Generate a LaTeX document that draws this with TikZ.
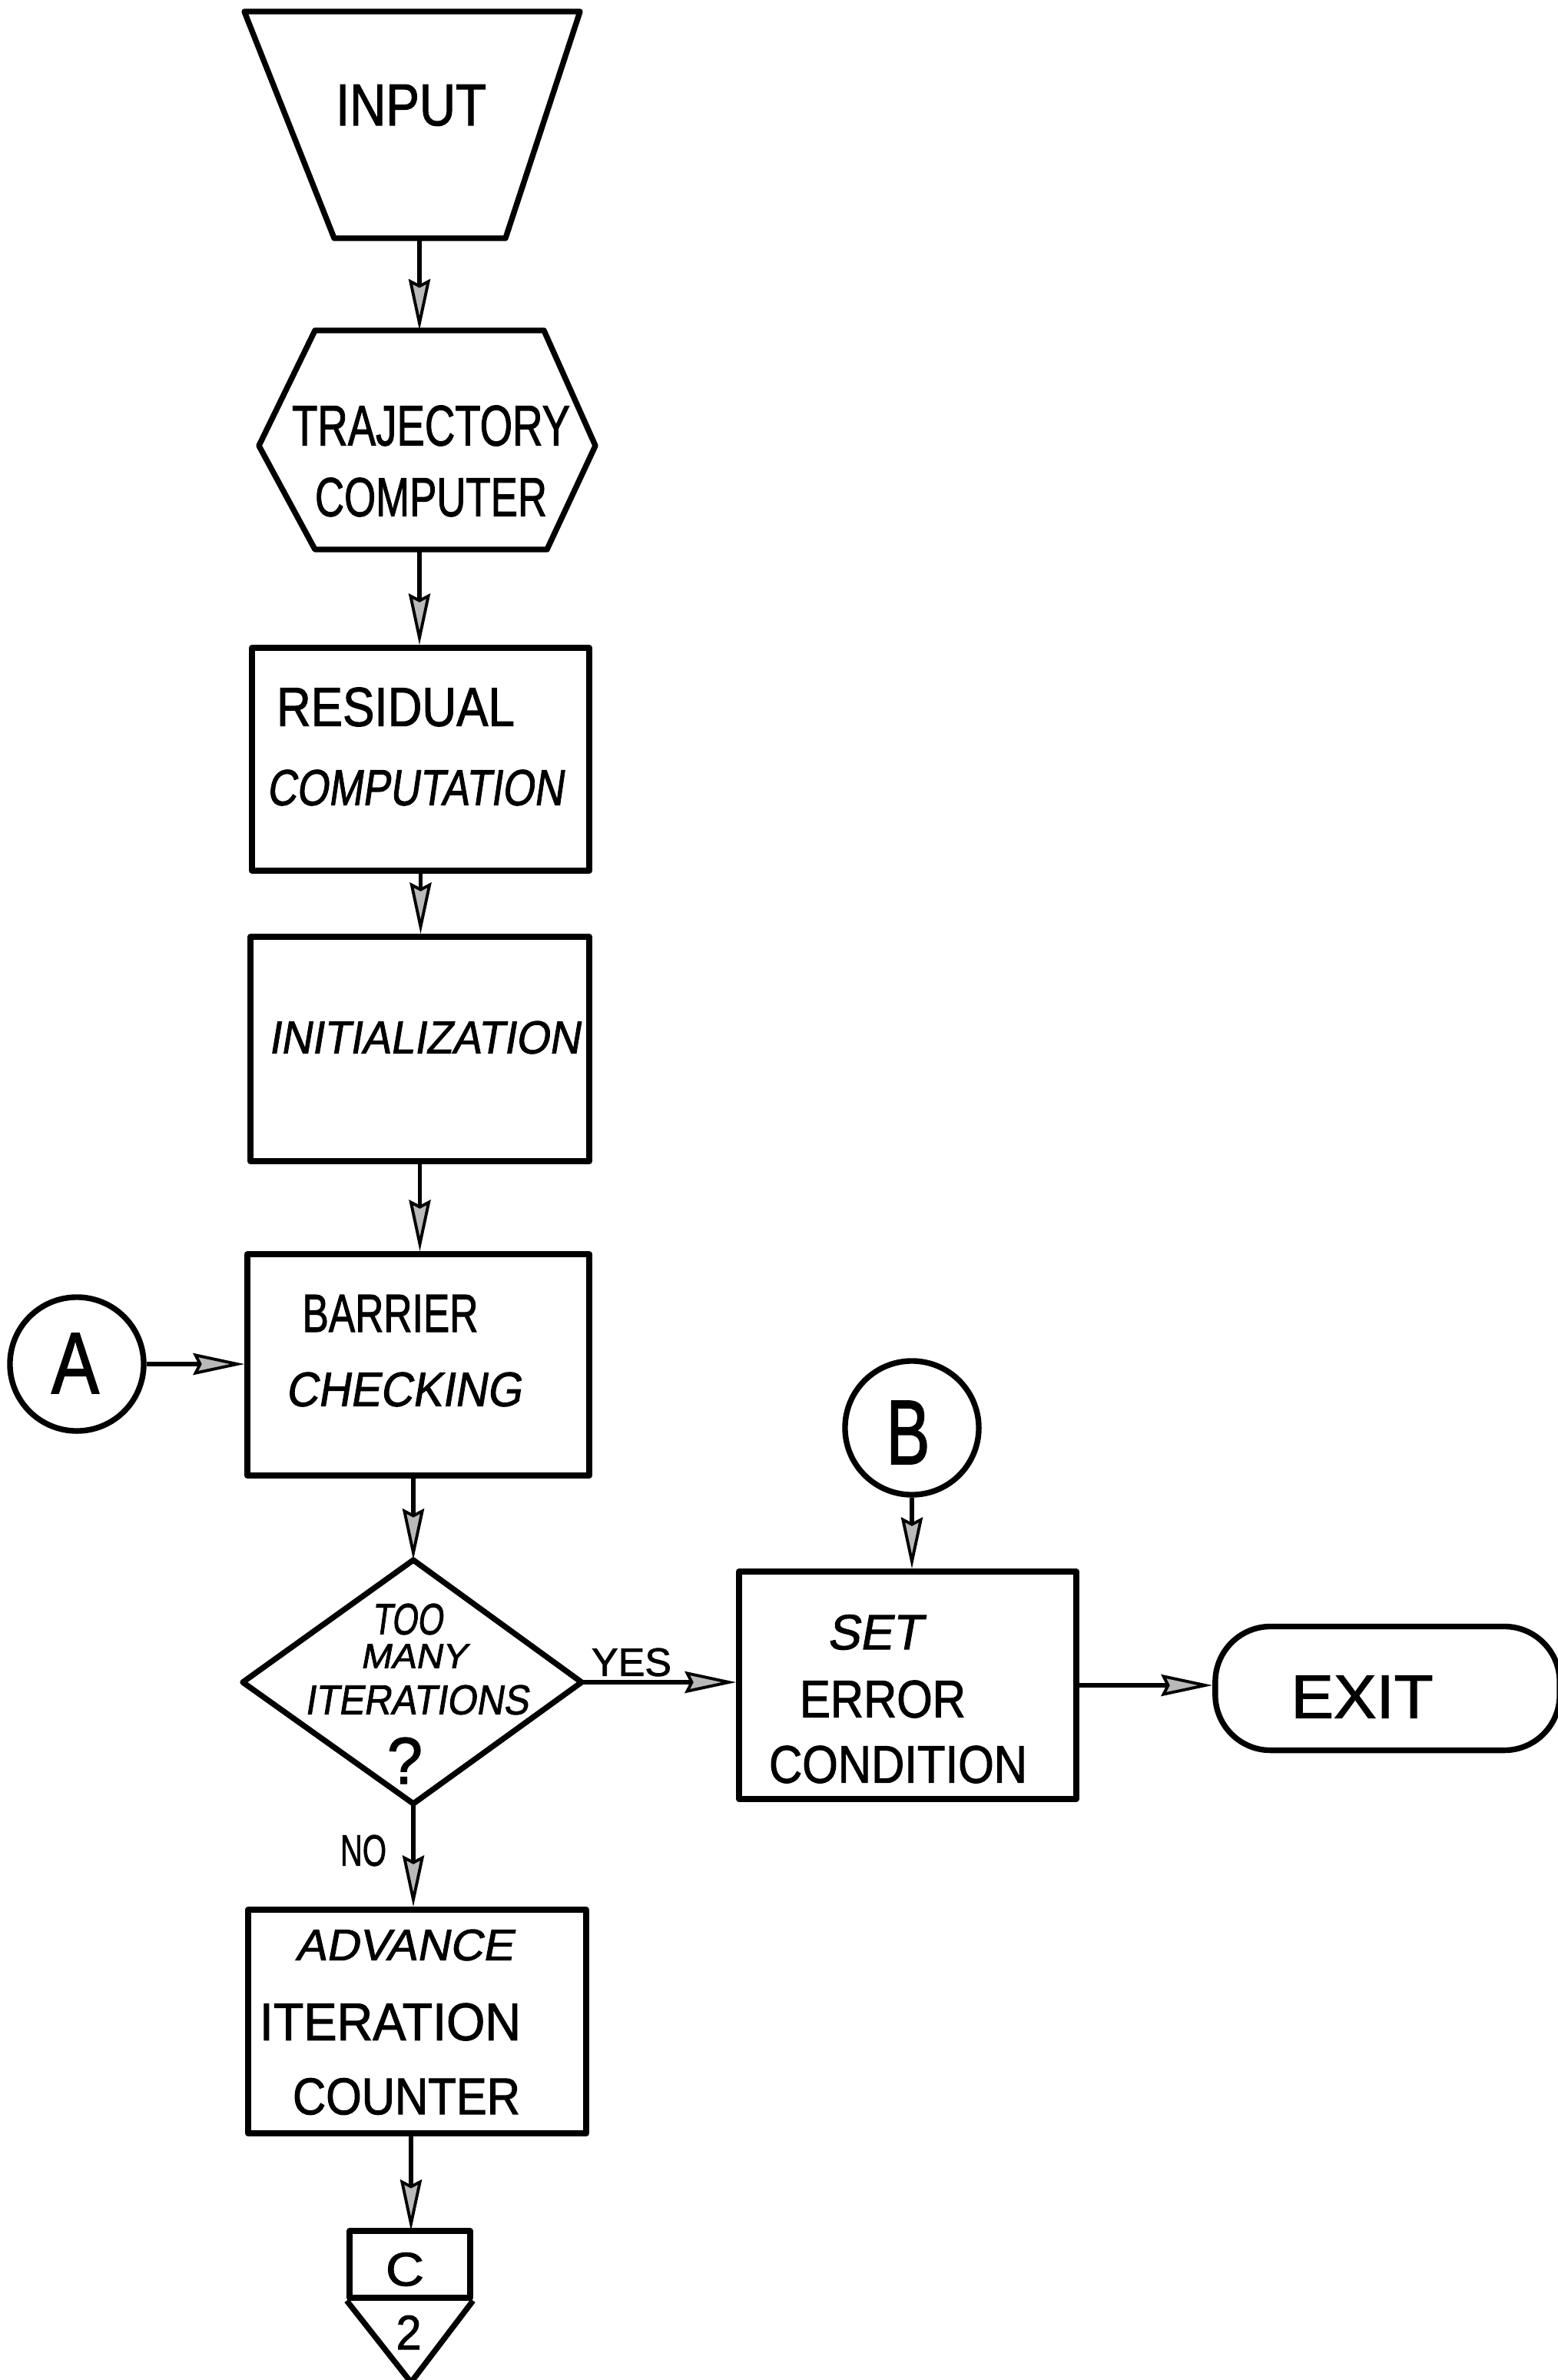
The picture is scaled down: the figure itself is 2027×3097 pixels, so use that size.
\documentclass[tikz,border=0pt]{standalone}
\usepackage{fontspec}
\usepackage{graphicx}
\usetikzlibrary{arrows.meta,calc}
\newfontfamily\handup[FakeBold=1.6]{Liberation Sans}
\newfontfamily\handsl[FakeBold=1.6,FakeSlant=0.18]{Liberation Sans}
\newdimen\pxu \pxu=0.01cm
% lettering scaled to a given width and cap height (in drawing units)
\newcommand\lettering[3]{\resizebox{#1\pxu}{#2\pxu}{\handup #3}}
\newcommand\letteringsl[3]{\resizebox{#1\pxu}{#2\pxu}{\handsl #3}}

\begin{document}
\begin{tikzpicture}[x=0.01cm,y=-0.01cm,
  outline/.style={draw=black,line width=2.1pt,line join=round},
  procbox/.style={outline,rectangle,inner sep=0pt},
  bubble/.style={outline,circle,inner sep=0pt,minimum size=1.74cm},
  conn/.style={draw=black,line width=1.5pt},
  flow/.style={conn,-{Stealth[length=19pt,width=8pt,inset=2pt,fill=gray!55,line width=1.1pt]}},
  word/.style={inner sep=0pt,anchor=center}]

\useasboundingbox (0,0) rectangle (2027,3097);

% ---------- input (trapezoid) ----------
\coordinate (intl) at (318,15);
\coordinate (intr) at (755,15);
\coordinate (inbr) at (658,310);
\coordinate (inbl) at (435,310);
\coordinate (inbot) at (546,310);
\draw[outline] (intl) -- (intr) -- (inbr) -- (inbl) -- cycle;
\node[word] (tin) at (535,137) {\lettering{196}{53}{INPUT}};

% ---------- trajectory computer (hexagon) ----------
\coordinate (hxtl) at (410,430);
\coordinate (hxtr) at (708,430);
\coordinate (hxr)  at (775,580);
\coordinate (hxbr) at (712,715);
\coordinate (hxbl) at (410,715);
\coordinate (hxl)  at (337,580);
\coordinate (hxtop) at (546,430);
\coordinate (hxbot) at (546,715);
\draw[outline] (hxtl) -- (hxtr) -- (hxr) -- (hxbr) -- (hxbl) -- (hxl) -- cycle;
\node[word] (ttraj) at (561,554) {\lettering{362}{52}{TRAJECTORY}};
\node[word] (tcomp) at (561,647) {\lettering{302}{50}{COMPUTER}};

% ---------- process boxes ----------
\node[procbox,minimum width=4.39cm,minimum height=2.90cm] (resid) at (547.5,988) {};
\node[word] (tres1) at (515,920) {\lettering{310}{50}{RESIDUAL}};
\node[word] (tres2) at (540,1025) {\letteringsl{386}{46}{COMPUTATION}};

\node[procbox,minimum width=4.41cm,minimum height=2.92cm] (init) at (546.5,1365) {};
\node[word] (tinit) at (552,1350) {\letteringsl{405}{42}{INITIALIZATION}};

\node[procbox,minimum width=4.45cm,minimum height=2.88cm] (barrier) at (544.5,1776) {};
\node[word] (tbar1) at (508,1709) {\lettering{229}{48}{BARRIER}};
\node[word] (tbar2) at (525,1808) {\letteringsl{307}{44}{CHECKING}};

\node[bubble] (conA) at (100,1775) {};
\node[word] (tA) at (98,1774) {\lettering{62}{78}{A}};

% ---------- decision (diamond) ----------
\coordinate (qtop) at (538,2030);
\coordinate (qright) at (757,2189);
\coordinate (qbot) at (538,2347);
\coordinate (qleft) at (316,2189);
\draw[outline] (qtop) -- (qright) -- (qbot) -- (qleft) -- cycle;
\node[word] (tq1) at (530,2107) {\letteringsl{92}{40}{TOO}};
\node[word] (tq2) at (538,2155) {\letteringsl{138}{31}{MANY}};
\node[word] (tq3) at (542,2212) {\letteringsl{291}{38}{ITERATIONS}};
\node[word] (tq4) at (527,2291) {\lettering{46}{60}{?}};

% ---------- error branch ----------
\node[procbox,minimum width=4.39cm,minimum height=2.96cm] (seterr) at (1181.5,2193) {};
\node[word] (tset1) at (1138,2124) {\letteringsl{123}{45}{SET}};
\node[word] (tset2) at (1149,2211) {\lettering{216}{48}{ERROR}};
\node[word] (tset3) at (1169,2296) {\lettering{336}{48}{CONDITION}};

\node[bubble] (conB) at (1187,1858) {};
\node[word] (tB) at (1182,1864) {\lettering{57}{82}{B}};

\node[outline,rectangle,rounded corners=0.72cm,minimum width=4.48cm,minimum height=1.61cm,inner sep=0pt] (exit) at (1806,2197) {};
\node[word] (texit) at (1773,2208) {\lettering{185}{55}{EXIT}};

% ---------- advance counter ----------
\node[procbox,minimum width=4.40cm,minimum height=2.91cm] (adv) at (543,2630.5) {};
\node[word] (tadv1) at (526,2531) {\letteringsl{283}{40}{ADVANCE}};
\node[word] (tadv2) at (508,2631) {\lettering{340}{48}{ITERATION}};
\node[word] (tadv3) at (529,2728) {\lettering{296}{47}{COUNTER}};

% ---------- off-page connector ----------
\node[procbox,minimum width=1.57cm,minimum height=0.87cm] (offC) at (533.5,2946.5) {};
\coordinate (offtip) at (535,3100);
\coordinate (offtop) at (535,2903);
\draw[outline] (offC.south west) -- (offtip) -- (offC.south east);
\node[word] (tC) at (527,2953) {\lettering{50}{43}{C}};
\node[word] (t2) at (532,3035) {\lettering{33}{44}{2}};

% ---------- labels ----------
\node[word] (lyes) at (822,2163) {\lettering{104}{36}{YES}};
\node[word] (lno) at (473,2408) {\lettering{60}{40}{NO}};

% ---------- connectors ----------
\draw[flow] (inbot) -- (hxtop);
\draw[flow] (hxbot) -- (hxbot |- resid.north);
\draw[flow] (resid.south) -- (resid.south |- init.north);
\draw[flow] (init.south) -- (init.south |- barrier.north);
\draw[flow] (conA.east) -- (conA.east -| barrier.west);
\draw[flow] (qtop |- barrier.south) -- (qtop);
\draw[flow] (qright) -- (qright -| seterr.west);
\draw[flow] (conB.south) -- (conB.south |- seterr.north);
\draw[flow] (seterr.east) -- (seterr.east -| exit.west);
\draw[flow] (qbot) -- (qbot |- adv.north);
\draw[flow] (offtop |- adv.south) -- (offtop);

\end{tikzpicture}
\end{document}
